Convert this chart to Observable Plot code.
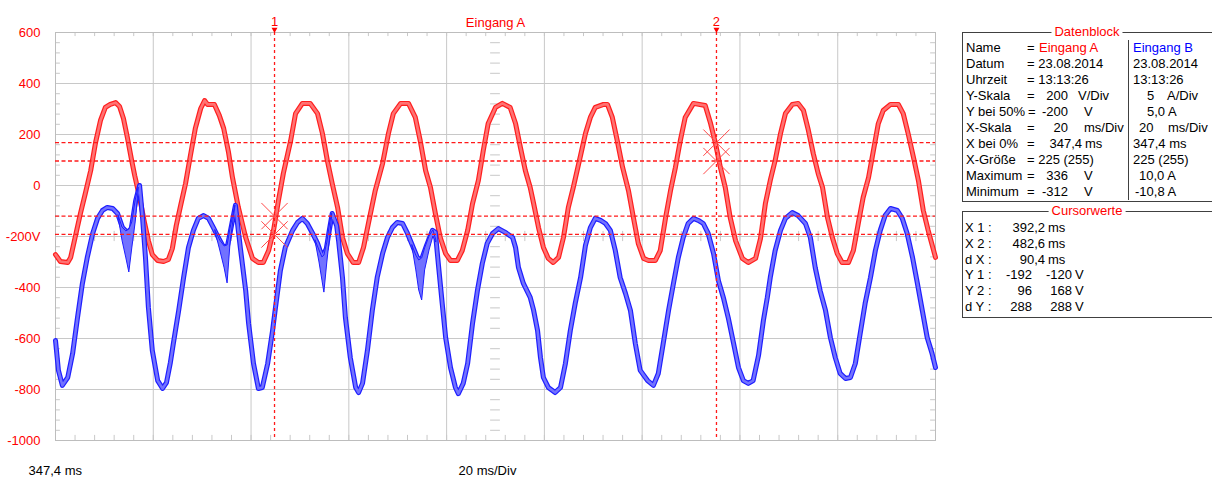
<!DOCTYPE html>
<html><head><meta charset="utf-8">
<script src="https://cdn.jsdelivr.net/npm/d3@7"></script>
<script src="https://cdn.jsdelivr.net/npm/@observablehq/plot@0.6"></script>
<style>
body{margin:0;background:#fff;}
#wrap{position:relative;width:1212px;height:484px;overflow:hidden;font-family:Arial,"Liberation Sans",sans-serif;font-size:13px;color:#000;background:#fff;}
.t{position:absolute;line-height:14px;white-space:pre;}
.box{position:absolute;border:1px solid #404040;}
</style></head><body><div id="wrap"></div>
<script>
// ---- data (time in ms after X bei 0% = 347.4 ms; values on the V axis) ----
const t0 = 347.4;
const xDiv = 20;
const xDivs = [0, 20, 40, 60, 80, 100, 120, 140, 160, 180];
const yTicks = [600, 400, 200, 0, -200, -400, -600, -800, -1000];

const redT = [0,1.0,2.5,3.1,4.1,5.1,6.1,7.2,8.2,9.2,10.2,11.2,12.3,13.1,13.9,14.7,15.5,16.2,16.8,17.4,18.2,19.0,19.8,
  20.9,22.1,23.1,23.9,24.7,25.6,26.6,27.6,28.6,29.7,30.5,31.1,32.5,33.5,34.4,35.4,36.2,37.4,38.9,
  40.3,41.5,42.5,43.6,44.6,45.6,46.6,48.1,49.1,50.5,52.1,53.6,54.6,55.6,56.6,57.7,58.7,59.7,
  60.9,62.0,63.0,64.0,65.4,66.9,68.1,69.1,70.6,72.2,73.6,74.6,75.7,76.7,77.7,78.7,79.8,
  80.8,82.2,83.2,84.3,85.3,86.5,87.5,88.5,90.0,91.4,93.0,94.1,95.1,96.1,97.1,97.8,98.8,99.8,
  100.8,101.8,102.9,103.9,104.9,105.9,107.4,108.4,109.4,110.4,112.1,112.9,113.9,114.9,116.0,117.2,118.2,119.2,
  120.3,121.3,122.7,123.7,124.8,125.8,126.8,127.8,128.8,130.5,132.9,134.0,135.0,136.0,137.0,138.0,139.1,
  140.5,141.7,143.2,144.2,145.2,146.2,147.2,148.3,149.3,150.7,151.9,153.0,154.0,155.0,156.0,156.9,157.9,158.9,159.9,
  160.9,162.2,163.2,164.2,165.2,166.3,167.3,168.3,169.3,170.8,172.4,173.4,174.4,175.5,176.5,177.5,178.5,180.0];
const redV = [-271,-298,-302,-282,-196,-110,-31,59,169,255,306,318,325,310,263,188,106,39,-12,-67,-145,-216,-271,
  -294,-298,-290,-247,-157,-78,8,118,224,302,333,318,318,275,224,129,31,-86,-204,
  -286,-302,-302,-255,-176,-59,47,176,282,322,322,282,204,98,8,-86,-204,-267,
  -302,-302,-243,-149,-20,86,204,282,322,322,267,176,59,-8,-110,-204,-267,
  -294,-294,-255,-176,-71,20,137,243,306,322,306,243,149,59,-8,-71,-165,-243,
  -286,-302,-282,-204,-86,-8,118,204,267,306,318,318,267,176,71,-20,-125,-227,
  -286,-294,-294,-255,-125,-20,71,176,267,322,314,243,165,71,-8,-125,-216,
  -286,-302,-286,-208,-71,20,98,204,282,318,322,294,216,125,47,-8,-125,-204,-267,
  -302,-302,-255,-149,-47,31,137,243,294,318,318,282,204,110,20,-98,-176,-282];

const blueT = [0,0.6,1.4,2.5,3.5,4.5,5.5,6.5,7.6,8.6,9.6,10.6,11.7,12.7,13.7,14.7,15.5,16.4,17.2,17.8,18.4,19.0,19.8,
  20.9,21.9,22.7,23.5,24.1,25.2,26.2,27.2,28.2,29.2,30.3,31.3,32.3,33.3,34.4,35.2,36.0,36.8,37.8,38.9,39.5,
  40.5,41.5,42.3,43.4,44.4,45.0,46.0,47.0,48.5,49.5,50.5,51.5,52.6,53.6,54.6,55.4,56.0,56.6,57.5,57.9,58.7,59.3,
  60.3,61.4,62.0,62.8,63.8,64.8,65.8,66.9,67.9,68.9,69.9,71.0,72.0,73.0,74.0,74.8,75.9,77.1,77.7,78.3,79.1,79.8,
  80.8,81.8,82.4,83.4,84.3,85.3,86.3,87.3,88.3,89.4,90.6,92.0,93.5,94.1,94.7,95.7,97.1,97.8,98.6,99.2,99.8,
  100.8,102.2,103.3,104.3,105.3,106.3,107.4,108.4,109.4,110.4,111.5,112.5,113.5,114.5,115.5,116.6,117.6,118.6,119.6,
  121.1,122.3,123.3,124.3,125.4,126.4,127.4,128.4,129.4,130.5,131.5,132.5,133.5,134.6,135.6,136.6,137.6,138.7,139.7,
  140.7,141.7,142.7,143.8,144.8,145.6,146.2,147.2,148.3,149.3,150.7,151.9,153.4,154.4,155.4,156.4,157.5,158.5,159.5,
  160.5,161.6,162.6,163.6,164.6,165.6,166.7,167.7,168.7,169.7,170.8,172.2,173.2,174.2,175.3,176.3,177.3,178.3,179.3,180.0];
const blueV = [-608,-725,-784,-753,-659,-518,-384,-282,-188,-129,-98,-86,-90,-110,-165,-184,-169,-59,0,-125,-282,-478,-647,
  -765,-796,-773,-694,-620,-490,-361,-243,-176,-129,-118,-129,-165,-204,-243,-235,-157,-78,-243,-412,-541,
  -698,-796,-792,-698,-569,-478,-333,-243,-176,-145,-129,-149,-188,-227,-282,-247,-176,-110,-157,-216,-361,-518,
  -675,-792,-812,-776,-647,-490,-361,-267,-204,-165,-145,-149,-188,-235,-282,-294,-235,-176,-184,-306,-463,-596,
  -714,-792,-816,-776,-698,-541,-412,-306,-227,-188,-169,-184,-204,-243,-322,-384,-439,-490,-569,-675,-753,
  -792,-812,-792,-698,-569,-463,-361,-235,-165,-129,-137,-149,-176,-255,-361,-424,-490,-620,-725,
  -765,-784,-737,-620,-490,-384,-282,-204,-149,-129,-137,-149,-188,-267,-373,-439,-518,-620,-714,
  -765,-776,-765,-667,-529,-439,-361,-255,-176,-129,-106,-118,-149,-204,-322,-412,-490,-596,-675,
  -737,-757,-753,-698,-580,-463,-361,-255,-176,-118,-90,-98,-129,-188,-282,-384,-490,-596,-659,-714];

// spread of the blue envelope at the current spikes
const notchG  = [1,1,1,1,1,1,1, 2,2,2,2,2,2,2, 3,3,3,3,3,3,3, 4,4,4,4,4,4,4,4];
const notchT  = [12.9,13.7,14.5,15.1,15.7,16.4,17.0, 32.7,33.7,34.6,35.2,35.8,36.4,36.8, 53.2,54.0,54.6,55.0,55.6,56.2,56.6, 73.0,73.8,74.4,75.0,75.6,76.5,77.3,77.9];
const notchHi = [-118,-165,-180,-173,-145,-59,-8, -176,-216,-239,-235,-169,-114,-78, -216,-255,-282,-275,-224,-145,-110, -235,-275,-294,-286,-247,-200,-176,-216];
const notchLo = [-122,-216,-286,-341,-247,-145,-20, -180,-255,-325,-384,-227,-137,-82, -220,-302,-373,-420,-302,-196,-118, -239,-333,-412,-451,-333,-255,-200,-224];

// cursors
const cursorX = [392.2, 482.6];
const cursorLabels = ["1", "2"];
const cursorY = [-192, -120, 96, 168];
const crossX = [392.2, 392.2, 482.6, 482.6];
const crossY = [-120, -192, 168, 96];

// ---- build ----
const red = redT.map((t, i) => ({t: t0 + t, v: redV[i]}));
const blue = blueT.map((t, i) => ({t: t0 + t, v: blueV[i]}));
const notches = notchT.map((t, i) => ({g: notchG[i], t: t0 + t, hi: notchHi[i], lo: notchLo[i]}));
const crosses = crossX.map((x, i) => ({x, y: crossY[i]}));
const xMinor = d3.range(0, 180.01, 4).map(d => t0 + d);
const yMinor = d3.range(-1000, 600.01, 40);
const gray = "#c8c8c8";
const RED = "#ff0000", BLUE = "#0000ff";

const svg = Plot.plot({
  width: 1212, height: 484,
  marginLeft: 55, marginRight: 277, marginTop: 32, marginBottom: 44,
  x: {domain: [t0, t0 + 180], axis: null},
  y: {domain: [-1000, 600], axis: null},
  style: {background: "transparent", fontFamily: "Arial, 'Liberation Sans', sans-serif", fontSize: "13px", overflow: "visible"},
  marks: [
    Plot.ruleX(xDivs.map(d => t0 + d), {stroke: gray}),
    Plot.ruleY(yTicks, {stroke: gray}),
    Plot.ruleX(xMinor, {x: d => d, y1: 600, y2: 584, stroke: gray}),
    Plot.ruleX(xMinor, {x: d => d, y1: -1000, y2: -980, stroke: gray}),
    Plot.ruleX(xMinor, {x: d => d, y1: -220, y2: -180, stroke: gray}),
    Plot.ruleY(yMinor, {y: d => d, x1: t0, x2: t0 + 1, stroke: gray}),
    Plot.ruleY(yMinor, {y: d => d, x1: t0 + 179, x2: t0 + 180, stroke: gray}),
    Plot.ruleY(yMinor, {y: d => d, x1: t0 + 89, x2: t0 + 91, stroke: gray}),
    Plot.frame({stroke: "#bdbdbd"}),
    Plot.text(yTicks, {x: t0, y: d => d, text: d => d === -200 ? "-200V" : String(d), textAnchor: "end", dx: -15, fill: RED}),
    // traces
    Plot.line(red, {x: "t", y: "v", stroke: "#ff1e1e", strokeWidth: 5}),
    Plot.line(red, {x: "t", y: "v", stroke: "#ff7272", strokeWidth: 2.6}),
    Plot.line(blue, {x: "t", y: "v", stroke: "#1e1eff", strokeWidth: 5}),
    Plot.line(blue, {x: "t", y: "v", stroke: "#7272ff", strokeWidth: 2.6}),
    Plot.areaY(notches, {x: "t", y1: "lo", y2: "hi", z: "g", fill: "#7272ff", stroke: "#1e1eff", strokeWidth: 1}),
    // cursors
    Plot.ruleY(cursorY, {stroke: "#ff1a1a", strokeWidth: 1.3, strokeDasharray: "4,2.5"}),
    Plot.ruleX(cursorX, {y1: 600, y2: -990, stroke: "#ff1a1a", strokeWidth: 1.3, strokeDasharray: "3,3"}),
    Plot.dot(crosses, {x: "x", y: "y", symbol: "times", r: 12, stroke: "#ff4a4a", strokeWidth: 1, fill: "none"}),
    Plot.text(cursorX, {x: d => d, y: 600, text: (d, i) => cursorLabels[i], dy: -11, fill: RED}),
    Plot.dot(cursorX, {x: d => d, y: 600, dy: -3, symbol: "triangle", r: 2.2, rotate: 180, fill: RED}),
    Plot.text(["Eingang A"], {frameAnchor: "top", dy: -15, fill: RED}),
    Plot.text([t0], {frameAnchor: "bottom-left", text: d => d.toFixed(1).replace(".", ",") + " ms", dx: -27, dy: 34, textAnchor: "start"}),
    Plot.text([xDiv], {frameAnchor: "bottom", text: d => d + " ms/Div", dx: -8, dy: 34})
  ]
});
svg.style.position = "absolute";
svg.style.left = "0px";
svg.style.top = "0px";
const wrap = document.getElementById("wrap");
wrap.appendChild(svg);

// ---- side panels ----
function put(txt, x, yc, o = {}) {
  const s = document.createElement("div");
  s.className = "t";
  s.textContent = txt;
  if (o.right) { s.style.left = (x - 200) + "px"; s.style.width = "200px"; s.style.textAlign = "right"; }
  else if (o.center) { s.style.left = x + "px"; s.style.transform = "translateX(-50%)"; s.style.background = "#fff"; s.style.padding = "0 3px"; }
  else s.style.left = x + "px";
  s.style.top = (yc - 7) + "px";
  if (o.color) s.style.color = o.color;
  wrap.appendChild(s);
}
function box(x, y, w, h) {
  const b = document.createElement("div");
  b.className = "box";
  b.style.left = x + "px"; b.style.top = y + "px"; b.style.width = w + "px"; b.style.height = h + "px";
  wrap.appendChild(b);
}
box(962, 32, 300, 168);
box(962, 211, 300, 105);
const div = document.createElement("div");
div.style.cssText = "position:absolute;left:1128px;top:40px;width:0;height:160px;border-left:1px solid #404040;";
wrap.appendChild(div);
put("Datenblock", 1087, 32, {center: true, color: RED});
put("Cursorwerte", 1087, 211, {center: true, color: RED});

const dbLabels = ["Name", "Datum", "Uhrzeit", "Y-Skala", "Y bei 50%", "X-Skala", "X bei 0%", "X-Größe", "Maximum", "Minimum"];
const dbRow = i => 48 + 16.05 * i;
dbLabels.forEach((l, i) => put(l, 966, dbRow(i)));
put("=", 1027, dbRow(0)); put("Eingang A", 1039, dbRow(0), {color: RED}); put("Eingang B", 1133, dbRow(0), {color: BLUE});
put("= 23.08.2014", 1027, dbRow(1)); put("23.08.2014", 1133, dbRow(1));
put("= 13:13:26", 1027, dbRow(2)); put("13:13:26", 1133, dbRow(2));
put("=", 1027, dbRow(3)); put("200", 1068, dbRow(3), {right: true}); put("V/Div", 1078, dbRow(3)); put("5", 1147, dbRow(3)); put("A/Div", 1167, dbRow(3));
put("=", 1028, dbRow(4)); put("-200", 1068, dbRow(4), {right: true}); put("V", 1084, dbRow(4)); put("5,0 A", 1147, dbRow(4));
put("=", 1027, dbRow(5)); put("20", 1068, dbRow(5), {right: true}); put("ms/Div", 1084, dbRow(5)); put("20", 1139, dbRow(5)); put("ms/Div", 1168, dbRow(5));
put("=", 1027, dbRow(6)); put("347,4", 1082, dbRow(6), {right: true}); put("ms", 1085, dbRow(6)); put("347,4 ms", 1133, dbRow(6));
put("= 225 (255)", 1027, dbRow(7)); put("225 (255)", 1133, dbRow(7));
put("=", 1027, dbRow(8)); put("336", 1068, dbRow(8), {right: true}); put("V", 1084, dbRow(8)); put("10,0 A", 1139, dbRow(8));
put("=", 1027, dbRow(9)); put("-312", 1068, dbRow(9), {right: true}); put("V", 1084, dbRow(9)); put("-10,8 A", 1135, dbRow(9));

const cwLabels = ["X 1 :", "X 2 :", "d X :", "Y 1 :", "Y 2 :", "d Y :"];
const cwRow = i => 228 + 15.8 * i;
cwLabels.forEach((l, i) => put(l, 965, cwRow(i)));
[["392,2"], ["482,6"], ["90,4"]].forEach((v, i) => { put(v[0], 1045, cwRow(i), {right: true}); put("ms", 1048, cwRow(i)); });
[["-192", "-120"], ["96", "168"], ["288", "288"]].forEach((v, k) => {
  const i = k + 3;
  put(v[0], 1032, cwRow(i), {right: true}); put(v[1], 1072, cwRow(i), {right: true}); put("V", 1075, cwRow(i));
});
</script></body></html>
